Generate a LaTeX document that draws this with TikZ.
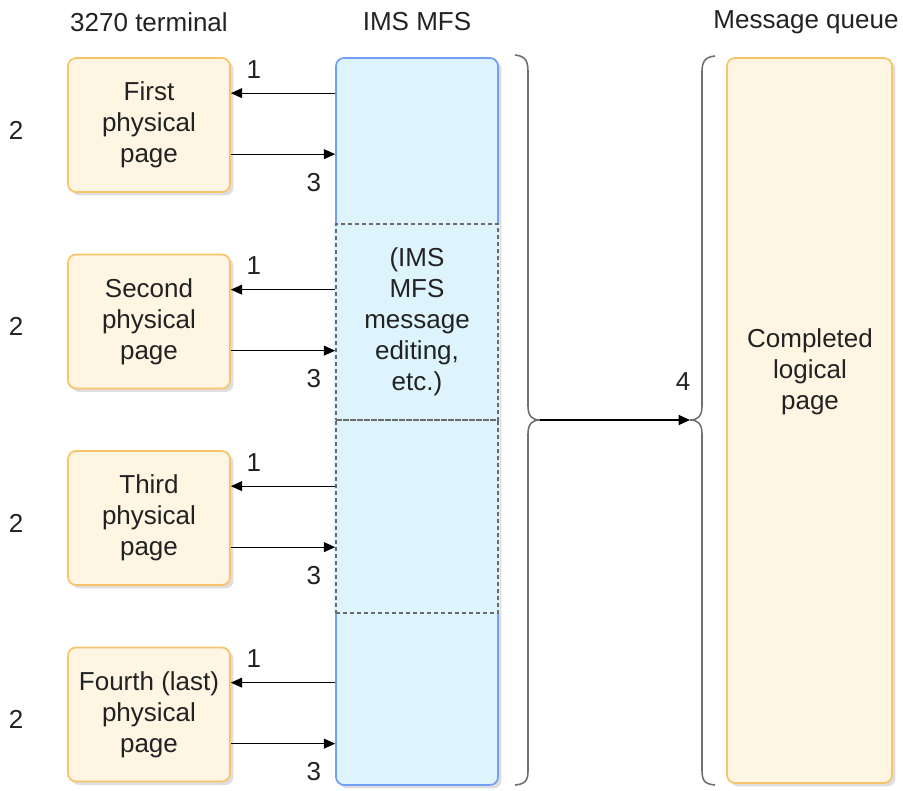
\documentclass[tikz,border=0pt]{standalone}
\usepackage{fontspec}
\setmainfont{Liberation Sans}
\usetikzlibrary{arrows.meta,shadows,calc}
\definecolor{ofill}{HTML}{FEF5E3}
\definecolor{oline}{HTML}{F8C46A}
\definecolor{bfill}{HTML}{DDF4FC}
\definecolor{bline}{HTML}{729FF5}
\definecolor{txtc}{HTML}{222222}
\definecolor{brc}{HTML}{707070}
\definecolor{dashc}{HTML}{6A6A6A}
\begin{document}
\begin{tikzpicture}[x=0.75pt,y=-0.75pt,
  font=\fontsize{19.5}{23.25}\selectfont, text=txtc,
  shad/.style={drop shadow={shadow xshift=2.6pt, shadow yshift=-2.6pt, fill=black, opacity=0.13}},
  page/.style={draw=oline, fill=ofill, line width=1.3pt, rounded corners=6pt,
    minimum width=121.5pt, minimum height=100.5pt, align=center, inner sep=0pt, shad},
  mfs/.style={draw=bline, fill=bfill, line width=1.3pt, rounded corners=6pt,
    minimum width=121.5pt, minimum height=545.25pt, inner sep=0pt, shad},
  editbox/.style={draw=dashc, line width=1pt, dash pattern=on 3pt off 2.25pt,
    minimum width=121.5pt, align=center, inner sep=0pt},
  arr/.style={-{Triangle[length=8.5pt,width=7.5pt]}, line width=0.8pt, draw=black},
  brace/.style={draw=brc, line width=1.2pt},
  lbl/.style={inner sep=0pt},
  title/.style={inner sep=0pt}
]
\useasboundingbox (0,0) rectangle (903,790);
\node[title] (t1) at (149,22) {3270 terminal};
\node[title] (t2) at (417,22) {IMS MFS};
\node[title] (t3) at (806,22) {Message queue};

\node[mfs] (mfs) at (417,421.5) {};
\fill[bfill] (334.2,224) rectangle (499.8,613);
\node[editbox, minimum height=147pt] (e1) at (417,322) {(IMS\\MFS\\message\\editing,\\etc.)};
\node[editbox, minimum height=144.75pt] (e2) at (417,516.5) {};

\foreach \i/\t in {1/First,2/Second,3/Third,4/{Fourth (last)}} {
  \node[page] (b\i) at (149,{125+196.5*(\i-1)}) {\t\\physical\\page};
  \path (b\i.north east) ++(0,36) coordinate (in\i) ++(0,61) coordinate (out\i);
  \draw[arr] (in\i -| mfs.west) -- (in\i);
  \draw[arr] (out\i) -- (out\i -| mfs.west);
  \node[lbl] (one\i) at ($(in\i)+(23,-24)$) {1};
  \node[lbl] (three\i) at ($(out\i)+(83,28)$) {3};
  \node[lbl] (two\i) at ($(b\i.west)+(-51,5)$) {2};
}

\node[page, minimum width=123.75pt, minimum height=543.75pt] (q) at (809.5,420.5) {};
\node[lbl, align=center] (qt) at (810,372) {Completed\\logical\\page};

\coordinate (lt) at (540,420);
\coordinate (rt) at (690,420);
\draw[brace] (515,55) .. controls (526,56) and (528,62) .. (528,72) -- (528,406)
  .. controls (528,416) and (532,420) .. (lt)
  .. controls (532,420) and (528,424) .. (528,434) -- (528,770)
  .. controls (528,780) and (526,784) .. (515,785);
\draw[brace] (715,56) .. controls (704,57) and (702,63) .. (702,72) -- (702,406)
  .. controls (702,416) and (698,420) .. (rt)
  .. controls (698,420) and (702,424) .. (702,434) -- (702,770)
  .. controls (702,780) and (704,784) .. (715,785);
\draw[arr] (lt) -- (rt);
\node[lbl] (four) at (683,382) {4};
\end{tikzpicture}
\end{document}
